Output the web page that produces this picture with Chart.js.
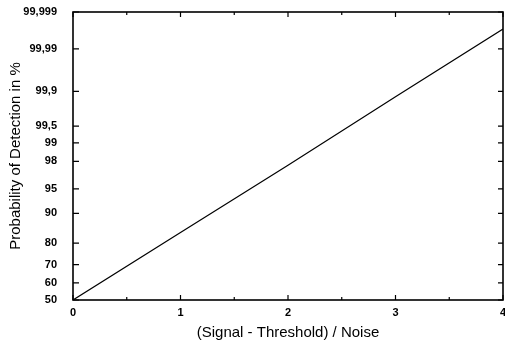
<!DOCTYPE html>
<html>
<head>
<meta charset="utf-8">
<script src="https://cdn.jsdelivr.net/npm/chart.js@4"></script>
<style>
  html, body { margin: 0; padding: 0; background: #fff; }
</style>
</head>
<body>
<canvas id="myChart" width="505" height="345"></canvas>
<script>
// values
const snr = [0, 1, 2, 3, 4];
const detection = [50, 84.1, 97.7, 99.87, 99.997];   // % detection
const yTicks = [50, 60, 70, 80, 90, 95, 98, 99, 99.5, 99.9, 99.99, 99.999];
const xTicks = [0, 1, 2, 3, 4];
const xMinor = [0.5, 1.5, 2.5, 3.5];

// inverse normal cdf (Acklam) - used for the probability axis
function probit(p) {
  const a = [-3.969683028665376e+01, 2.209460984245205e+02, -2.759285104469687e+02, 1.383577518672690e+02, -3.066479806614716e+01, 2.506628277459239e+00];
  const b = [-5.447609879822406e+01, 1.615858368580409e+02, -1.556989798598866e+02, 6.680131188771972e+01, -1.328068155288572e+01];
  const c = [-7.784894002430293e-03, -3.223964580411365e-01, -2.400758277161838e+00, -2.549732539343734e+00, 4.374664141464968e+00, 2.938163982698783e+00];
  const d = [7.784695709041462e-03, 3.224671290700398e-01, 2.445134137142996e+00, 3.754408661907416e+00];
  const plow = 0.02425, phigh = 1 - plow;
  let q, r;
  if (p < plow) {
    q = Math.sqrt(-2 * Math.log(p));
    return (((((c[0]*q+c[1])*q+c[2])*q+c[3])*q+c[4])*q+c[5]) / ((((d[0]*q+d[1])*q+d[2])*q+d[3])*q+1);
  }
  if (p <= phigh) {
    q = p - 0.5; r = q * q;
    return (((((a[0]*r+a[1])*r+a[2])*r+a[3])*r+a[4])*r+a[5])*q / (((((b[0]*r+b[1])*r+b[2])*r+b[3])*r+b[4])*r+1);
  }
  q = Math.sqrt(-2 * Math.log(1 - p));
  return -(((((c[0]*q+c[1])*q+c[2])*q+c[3])*q+c[4])*q+c[5]) / ((((d[0]*q+d[1])*q+d[2])*q+d[3])*q+1);
}
const z = p => probit(p / 100);

const tickFont = { family: 'Liberation Sans, Arial, sans-serif', size: 11, weight: 'bold' };
const titleFont = { family: 'Liberation Sans, Arial, sans-serif', size: 15 };

// box round the plot with inward ticks on all four sides
const frameTicks = {
  id: 'frameTicks',
  afterDraw(chart) {
    const { ctx, chartArea: a, scales: { x, y } } = chart;
    ctx.save();
    ctx.strokeStyle = '#000';
    ctx.lineWidth = 1.6;
    ctx.strokeRect(a.left, a.top, a.right - a.left, a.bottom - a.top);
    ctx.lineWidth = 1.2;
    ctx.beginPath();
    xTicks.forEach(v => {
      const px = x.getPixelForValue(v);
      ctx.moveTo(px, a.bottom); ctx.lineTo(px, a.bottom - 5);
      ctx.moveTo(px, a.top); ctx.lineTo(px, a.top + 5);
    });
    xMinor.forEach(v => {
      const px = x.getPixelForValue(v);
      ctx.moveTo(px, a.bottom); ctx.lineTo(px, a.bottom - 3);
      ctx.moveTo(px, a.top); ctx.lineTo(px, a.top + 3);
    });
    yTicks.forEach(p => {
      const py = y.getPixelForValue(z(p));
      ctx.moveTo(a.left, py); ctx.lineTo(a.left + 6, py);
      ctx.moveTo(a.right, py); ctx.lineTo(a.right - 5, py);
    });
    ctx.stroke();
    ctx.restore();
  }
};

const data = {
  datasets: [{
    data: snr.map((s, i) => ({ x: s, y: z(detection[i]) })),
    borderColor: '#000',
    borderWidth: 1.2,
    pointRadius: 0,
    tension: 0,
    fill: false
  }]
};

const config = {
  type: 'line',
  data,
  options: {
    responsive: false,
    animation: false,
    devicePixelRatio: 1,
    layout: { padding: { top: 12, right: 2, left: 0, bottom: 0 } },
    plugins: { legend: { display: false }, tooltip: { enabled: false } },
    scales: {
      x: {
        type: 'linear',
        min: 0,
        max: 4,
        grid: { display: false },
        border: { display: false },
        afterBuildTicks: s => { s.ticks = xTicks.map(v => ({ value: v })); },
        afterFit: s => { s.height = 45; s.paddingLeft = 0; s.paddingRight = 0; },
        ticks: { font: tickFont, color: '#000', padding: -2, maxRotation: 0, autoSkip: false,
                 callback: v => String(v) },
        title: { display: true, text: '(Signal - Threshold) / Noise', font: titleFont, color: '#000',
                 padding: { top: 0, bottom: 3 } }
      },
      y: {
        type: 'linear',
        min: 0,
        max: z(99.999),
        grid: { display: false },
        border: { display: false },
        afterBuildTicks: s => { s.ticks = yTicks.map(p => ({ value: z(p) })); },
        afterFit: s => { s.width = 73; s.paddingTop = 0; s.paddingBottom = 0; },
        ticks: { font: tickFont, color: '#000', padding: 8, autoSkip: false,
                 callback: (v, i) => String(yTicks[i]).replace('.', ',') },
        title: { display: true, text: 'Probability of Detection in %', font: titleFont, color: '#000',
                 padding: { top: 7, bottom: 0 } }
      }
    }
  },
  plugins: [frameTicks]
};

const myChart = new Chart(document.getElementById('myChart'), config);
</script>
</body>
</html>
